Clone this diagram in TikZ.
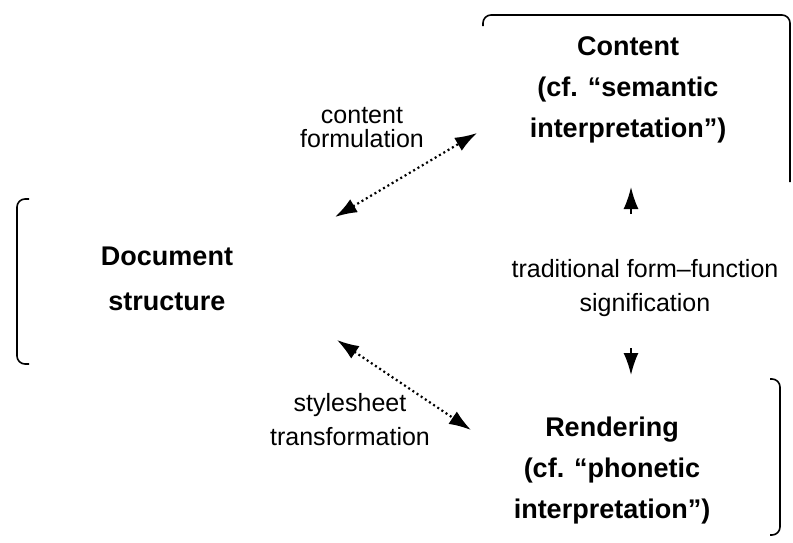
\documentclass[tikz,border=0pt]{standalone}
\usepackage{fontspec}
\setmainfont{Liberation Sans}
\usetikzlibrary{arrows.meta}

\begin{document}
\begin{tikzpicture}[x=1pt,y=1pt,
	head/.style={align=center,font=\bfseries\fontsize{27}{41}\selectfont},
	lbl/.style={align=center,font=\fontsize{25}{34}\selectfont},
	frame/.style={line width=1.6pt,rounded corners=8pt},
	link/.style={dash pattern=on 2pt off 3pt,line width=2.2pt,{Latex[length=22pt,width=15pt]}-{Latex[length=22pt,width=15pt]}},
	dir/.style={line width=1.8pt,-{Latex[length=22pt,width=15pt]}}]
	\useasboundingbox (0,0) rectangle (793,-542);
	\node[head] (content) at (628,-90) {Content\\(cf. ``semantic\\interpretation'')};
	\node[head] (doc) at (167,-279) {Document\\[4pt]structure};
	\node[head] (render) at (612,-471) {Rendering\\(cf. ``phonetic\\interpretation'')};
	\node[lbl] (formul) at (362,-128) {content\\[-10pt]formulation};
	\node[lbl] (style) at (350,-420) {stylesheet\\transformation};
	\node[lbl] (signif) at (645,-288) {traditional form--function\\signification};
	% frames
	\draw[frame] (483,-26) |- (790,-15) -- (790,-182);
	\draw[frame] (29,-199) -| (17,-282) |- (29,-364);
	\draw[frame] (770,-379) -| (780,-460) |- (770,-535);
	% connectors
	\coordinate (c1) at (335,-217);
	\coordinate (c2) at (477,-133);
	\coordinate (s1) at (337,-340);
	\coordinate (s2) at (471,-430);
	\draw[link] (c1) -- (c2);
	\draw[link] (s1) -- (s2);
	\coordinate (u1) at (631,-214);
	\coordinate (u2) at (631,-187);
	\coordinate (d1) at (631,-348);
	\coordinate (d2) at (631,-375);
	\draw[dir] (u1) -- (u2);
	\draw[dir] (d1) -- (d2);
\end{tikzpicture}
\end{document}
